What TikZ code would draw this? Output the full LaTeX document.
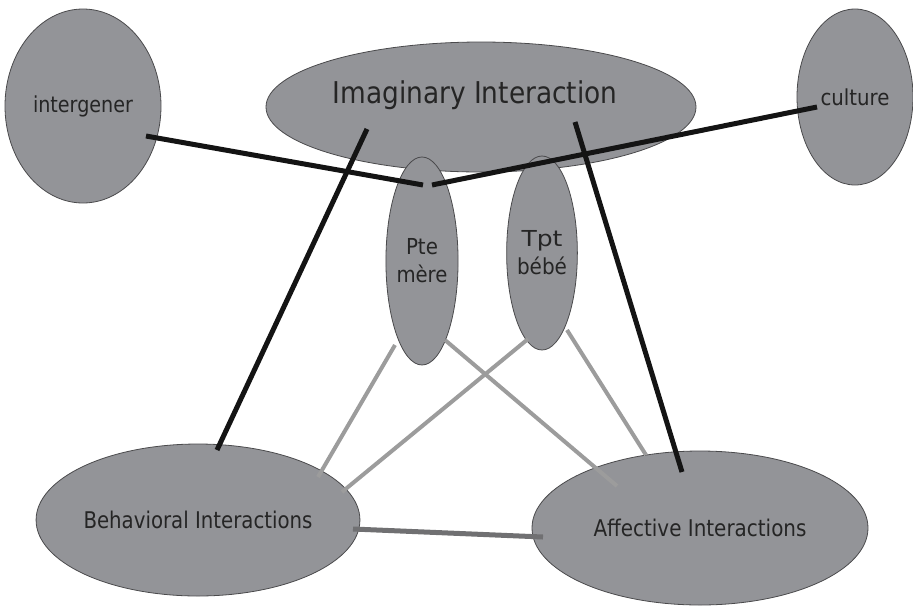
\documentclass[tikz,border=0pt]{standalone}
\usepackage{fontspec}
\usepackage{graphicx}
\setmainfont{DejaVu Sans}
\usetikzlibrary{shapes.geometric,calc}
\definecolor{ellfill}{HTML}{939498}
\definecolor{ellline}{HTML}{4a4a4c}
\definecolor{txt}{HTML}{252525}
\definecolor{blk}{HTML}{141414}
\definecolor{lgray}{HTML}{9c9c9c}
\definecolor{dgray}{HTML}{707072}
\newcommand{\tw}[2]{\resizebox{#1pt}{\height}{#2}}
\tikzset{
  blob/.style={ellipse, draw=ellline, line width=0.8pt, fill=ellfill, inner sep=0pt,
    text=txt, font=\fontsize{22}{28}\selectfont, align=center},
  blackln/.style={draw=blk, line width=5pt},
  grayln/.style={draw=lgray, line width=4pt},
  darkln/.style={draw=dgray, line width=5pt},
  lbl/.style={text=txt, inner sep=0pt}
}
\begin{document}
\begin{tikzpicture}[x=1pt,y=-1pt]
\useasboundingbox (0,0) rectangle (913,606);
% ellipses
\node[blob, minimum width=156pt, minimum height=194pt] (inter) at (83,106) {\tw{100}{intergener}};
\node[blob, minimum width=116pt, minimum height=176pt] (cult) at (855,97) {\tw{69}{culture}};
\node[blob, minimum width=430pt, minimum height=130pt] (imag) at (481,107) {};
\node[lbl, font=\fontsize{30}{36}\selectfont] (imagtxt) at (475,95) {\tw{285}{Imaginary Interaction}};
\node[blob, minimum width=68pt, minimum height=208pt] (pte) at (422,261) {\tw{32}{Pte}\\\tw{51}{mère}};
\node[blob, minimum width=70pt, minimum height=194pt] (tpt) at (542,253) {\tw{41}{Tpt}\\\tw{50}{bébé}};
\node[blob, minimum width=322pt, minimum height=152pt, font=\fontsize{23}{28}\selectfont] (behav) at (198,520) {\tw{229}{Behavioral Interactions}};
\node[blob, minimum width=336pt, minimum height=154pt, font=\fontsize{23}{28}\selectfont] (affect) at (700,528) {\tw{213}{Affective Interactions}};
% connectors
\draw[blackln] ($(inter)+(63,30)$) -- ($(pte)+(1,-76)$);
\draw[blackln] ($(pte)+(10,-76)$) -- ($(cult)+(-38,10)$);
\draw[blackln] ($(imag)+(-114,22)$) -- ($(behav)+(19,-70)$);
\draw[blackln] ($(imag)+(94,15)$) -- ($(affect)+(-18,-56)$);
\draw[grayln] ($(pte)+(-27,84)$) -- ($(behav)+(120,-43)$);
\draw[grayln] ($(pte)+(23,79)$) -- ($(affect)+(-83,-42)$);
\draw[grayln] ($(tpt)+(-14,86)$) -- ($(behav)+(144,-28)$);
\draw[grayln] ($(tpt)+(25,77)$) -- ($(affect)+(-54,-73)$);
\draw[darkln] ($(behav)+(155,9)$) -- ($(affect)+(-157,9)$);
\end{tikzpicture}
\end{document}
